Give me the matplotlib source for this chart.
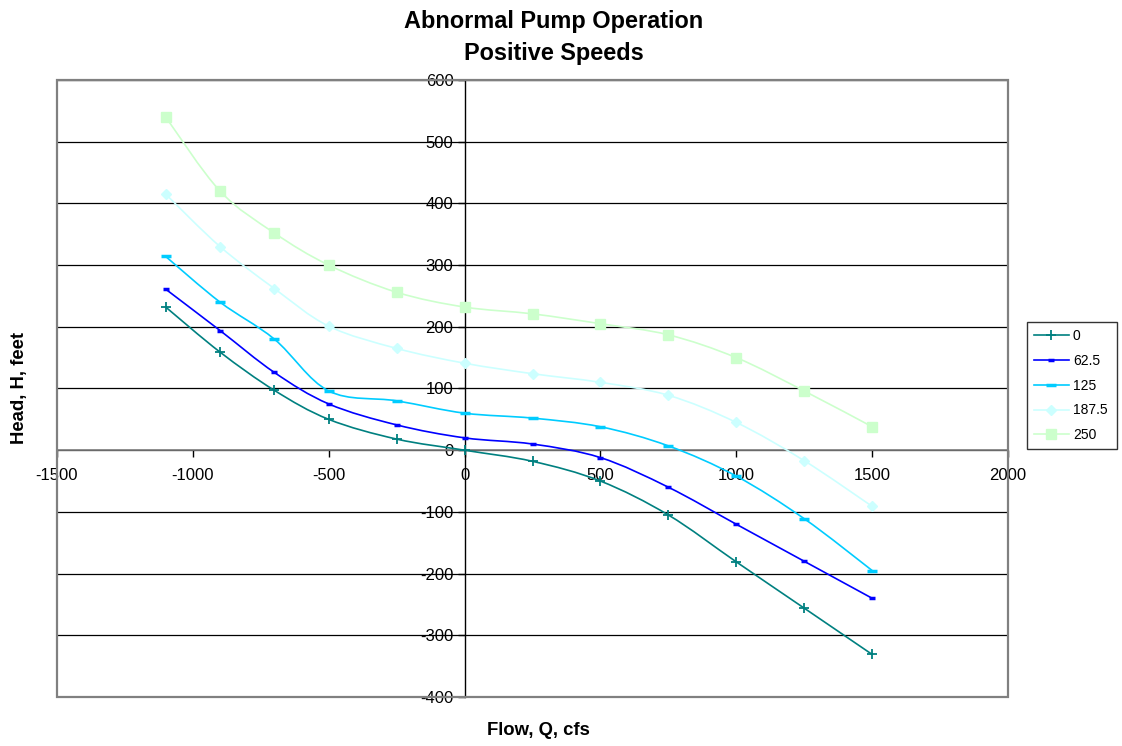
import numpy as np
import matplotlib
matplotlib.use('Agg')
import matplotlib.pyplot as plt
from matplotlib.path import Path
from matplotlib.patches import PathPatch, Rectangle
from matplotlib.lines import Line2D

plt.rcParams['font.family'] = ['Liberation Sans', 'DejaVu Sans']
plt.rcParams['axes.unicode_minus'] = False

# flow values (cfs)
flow = [-1100, -900, -700, -500, -250, 0, 250, 500, 750, 1000, 1250, 1500]

# head for each speed
head_0 = [232, 159, 97, 50, 18, 0, -18, -50, -105, -181, -256, -331]
head_62 = [261, 194, 126, 75, 41, 20, 10, -12, -60, -120, -180, -240]
head_125 = [314, 240, 180, 96, 80, 60, 52, 38, 7, -42, -111, -195]
head_187 = [415, 330, 262, 201, 165, 141, 124, 110, 89, 45, -17, -91]
head_250 = [540, 420, 352, 300, 256, 232, 221, 205, 187, 150, 96, 38]

speeds = ['0', '62.5', '125', '187.5', '250']
heads = [head_0, head_62, head_125, head_187, head_250]
colors = ['#008080', '#0000ff', '#00ccff', '#ccffff', '#ccffcc']
markers = [dict(marker='+', ms=7, mew=1.3),
           dict(marker='_', ms=5, mew=2.5),
           dict(marker='_', ms=7, mew=2.5),
           dict(marker='D', ms=5),
           dict(marker='s', ms=7)]


def smooth_path(x, y):
    # excel-style bezier smoothing through the points
    p = np.column_stack([x, y]).astype(float)
    n = len(p)
    verts = [p[0]]
    codes = [Path.MOVETO]
    for i in range(n - 1):
        p0 = p[i - 1] if i > 0 else p[i]
        p3 = p[i + 2] if i + 2 < n else p[i + 1]
        c1 = p[i] + (p[i + 1] - p0) / 6
        c2 = p[i + 1] - (p3 - p[i]) / 6
        verts += [c1, c2, p[i + 1]]
        codes += [Path.CURVE4] * 3
    return Path(verts, codes)


fig = plt.figure(figsize=(11.22, 7.46), dpi=100)
ax = fig.add_axes([57 / 1122, 1 - 697 / 746, 951 / 1122, 617 / 746])
ax.set_xlim(-1500, 2000)
ax.set_ylim(-400, 600)

ax.set_xticks(range(-1500, 2001, 500))
ax.set_yticks(range(-400, 601, 100))
ax.yaxis.grid(True, color='black', lw=0.9)
ax.set_axisbelow(True)

for s in ['top', 'right']:
    ax.spines[s].set_visible(False)
ax.spines['left'].set_position(('data', 0))
ax.spines['bottom'].set_position(('data', 0))
ax.spines['left'].set_color('black')
ax.spines['bottom'].set_color('#808080')
ax.spines['left'].set_linewidth(1.0)
ax.spines['bottom'].set_linewidth(1.2)
ax.add_patch(Rectangle((0, 0), 1, 1, transform=ax.transAxes, fill=False,
                       edgecolor='#808080', lw=1.6, clip_on=False, zorder=5))
ax.tick_params(direction='out', length=5, width=1, labelsize=12)
ax.tick_params(axis='x', pad=8)
ax.tick_params(axis='y', pad=3)

handles = []
for lab, h, c, m in zip(speeds, heads, colors, markers):
    ax.add_patch(PathPatch(smooth_path(flow, h), facecolor='none',
                           edgecolor=c, lw=1.2, zorder=3))
    ax.plot(flow, h, linestyle='none', color=c, mec=c, mfc=c, zorder=4, **m)
    handles.append(Line2D([], [], color=c, lw=1.2, mec=c, mfc=c, **m))

ax.set_xlabel('Flow, Q, cfs', fontsize=13.3, fontweight='bold')
ax.xaxis.set_label_coords(0.506, -0.04)
ax.set_ylabel('Head, H, feet', fontsize=13.3, fontweight='bold')
ax.yaxis.set_label_coords(-0.031, 0.5)

fig.text(554 / 1122, 1 - 10 / 746, 'Abnormal Pump Operation\nPositive Speeds',
         ha='center', va='top', fontsize=16.9, fontweight='bold', linespacing=1.5)

leg = fig.legend(handles, speeds, loc='upper left', mode='expand',
                 bbox_to_anchor=(1027 / 1122, 1 - 322 / 746, 90 / 1122, 0),
                 fontsize=10, frameon=True, fancybox=False, edgecolor='black',
                 handlelength=2.5, labelspacing=0.78, borderpad=0.5,
                 handletextpad=0.3, borderaxespad=0)
leg.get_frame().set_linewidth(1.0)

fig.savefig('out.png', dpi=100)
